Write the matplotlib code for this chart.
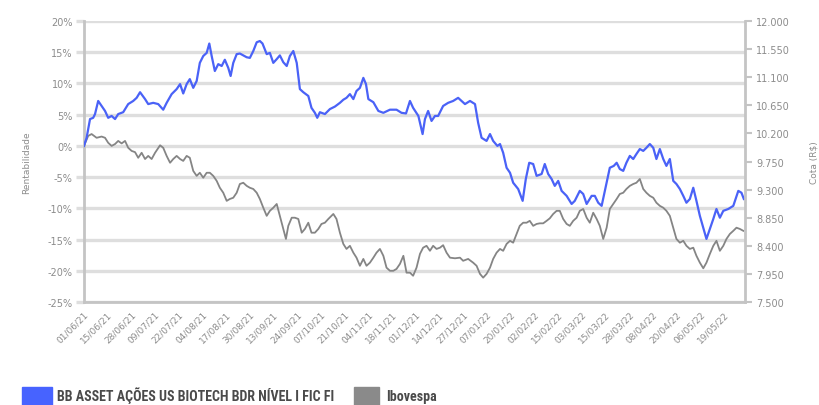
import matplotlib.pyplot as plt
from matplotlib.patches import Rectangle
from matplotlib.ticker import FuncFormatter

# trading-day index since 01/06/21 and accumulated return (%)
blue_days = [0, 1.0, 2.3, 3.5, 4.2, 5.4, 6.7, 8.0, 9.2, 10.5,
             11.8, 13.0, 14.9, 16.8, 18.7, 20.0, 21.3, 23.2, 24.4, 26.3,
             28.2, 30.1, 31.4, 33.3, 35.2, 36.5, 37.7, 39.0, 40.2, 41.5,
             42.8, 44.0, 45.3, 46.6, 47.6, 48.5, 49.7, 51.0, 52.3, 53.5,
             54.8, 55.7, 56.7, 58.0, 59.2, 60.5, 61.8, 63.0, 64.3, 65.6,
             66.8, 67.8, 69.4, 70.6, 71.9, 73.2, 74.4, 75.7, 77.0, 78.2,
             79.5, 80.8, 82.0, 83.3, 85.2, 86.4, 87.7, 88.6, 89.6, 91.5,
             93.4, 95.3, 97.2, 98.5, 99.7, 101.0, 102.3, 103.5, 104.8, 106.1,
             107.1, 108.0, 109.9, 111.8, 113.7, 116.2, 118.7, 120.6, 122.3, 123.8,
             125.0, 127.0, 128.6, 129.5, 130.7, 132.0, 133.3, 134.5, 136.4, 138.3,
             140.2, 142.1, 143.4, 144.7, 146.6, 148.5, 149.7, 151.0, 152.9, 154.2,
             155.4, 157.0, 158.0, 159.2, 160.5, 161.8, 163.0, 164.9, 166.6, 167.8,
             169.1, 170.6, 171.9, 173.8, 175.0, 176.3, 177.6, 178.8, 180.1, 181.4,
             183.3, 185.2, 186.4, 188.3, 189.6, 190.9, 192.8, 194.0, 195.3, 196.6,
             198.5, 199.7, 201.2, 202.3, 203.5, 204.8, 206.0, 207.3, 208.6, 209.8,
             211.1, 212.4, 213.6, 214.9, 216.2, 217.4, 218.7, 220.0, 221.2, 222.5,
             223.8, 225.0, 226.3, 227.6, 228.8, 230.1, 231.4, 232.6, 233.9, 235.2,
             236.4, 237.7, 239.0, 240.2, 241.5, 242.8, 244.7, 246.6, 248.5, 249.7,
             250.6]
blue_vals = [0.0, 1.3, 4.3, 4.5, 5.1, 7.2, 6.4, 5.6, 4.5, 4.8,
             4.3, 5.1, 5.4, 6.7, 7.2, 7.7, 8.6, 7.5, 6.7, 6.9,
             6.7, 5.8, 6.9, 8.3, 9.1, 9.9, 8.4, 9.9, 10.7, 9.3,
             10.4, 13.3, 14.4, 14.9, 16.4, 14.4, 12.0, 13.1, 12.8, 13.8,
             12.5, 11.2, 13.3, 14.7, 14.8, 14.5, 14.2, 14.1, 15.2, 16.6,
             16.8, 16.4, 14.7, 14.9, 13.3, 13.9, 14.5, 13.4, 12.8, 14.4,
             15.2, 13.3, 9.1, 8.6, 8.0, 6.1, 5.3, 4.5, 5.4, 5.1,
             5.9, 6.3, 6.9, 7.4, 7.7, 8.3, 7.5, 8.8, 9.3, 10.9,
             9.9, 7.5, 7.0, 5.6, 5.3, 5.8, 5.8, 5.3, 5.2, 7.2,
             6.1, 4.8, 1.9, 4.3, 5.6, 4.0, 4.8, 4.8, 6.4, 6.9,
             7.2, 7.7, 7.2, 6.7, 7.2, 6.7, 3.7, 1.3, 0.8, 1.9,
             0.8, 0.0, 0.3, -1.1, -3.5, -4.3, -5.9, -6.9, -8.8, -5.3,
             -2.7, -2.9, -4.8, -4.5, -2.9, -4.5, -5.3, -6.4, -5.6, -7.2,
             -8.0, -9.3, -8.8, -7.2, -7.7, -9.3, -8.0, -8.0, -9.1, -9.6,
             -5.9, -3.5, -3.2, -2.7, -3.7, -4.0, -2.7, -1.6, -2.1, -1.3,
             -0.5, -0.8, -0.3, 0.3, -0.3, -2.1, -0.5, -2.1, -3.2, -2.1,
             -5.6, -6.1, -6.9, -8.0, -9.1, -8.5, -6.7, -8.8, -11.2, -13.1,
             -14.9, -13.3, -11.7, -10.1, -11.5, -10.4, -10.1, -9.6, -7.2, -7.5,
             -8.5]

gray_days = [0, 1.6, 2.9, 4.8, 6.7, 8.0, 9.2, 10.5, 11.8, 13.0,
             14.3, 15.6, 16.8, 18.1, 19.4, 20.6, 21.9, 23.2, 24.4, 25.7,
             27.0, 28.9, 30.1, 31.4, 32.7, 33.9, 35.2, 36.5, 37.7, 39.0,
             40.2, 41.5, 42.8, 44.0, 45.3, 46.6, 47.8, 49.1, 50.4, 51.6,
             52.9, 54.2, 55.4, 56.7, 58.0, 59.2, 60.5, 61.8, 63.0, 64.3,
             65.6, 66.8, 68.1, 69.4, 70.6, 71.9, 73.2, 74.4, 75.7, 76.7,
             77.6, 78.9, 80.1, 81.4, 82.7, 83.9, 85.2, 86.4, 87.7, 89.0,
             90.2, 91.5, 92.8, 94.7, 95.9, 97.2, 98.5, 99.7, 101.0, 102.3,
             103.5, 104.8, 106.1, 107.3, 108.6, 109.9, 111.1, 112.4, 113.7, 114.9,
             116.2, 117.5, 118.7, 120.0, 121.3, 122.5, 123.8,
             125.0, 126.3, 127.6, 128.8, 130.1, 131.4, 132.6, 133.9, 135.2, 136.4,
             137.7, 139.0, 140.9, 142.8, 144.0, 145.9, 147.8, 149.1, 150.4, 151.6,
             152.9, 154.2, 155.4, 156.7, 158.0, 159.2, 160.5, 161.8, 163.0, 164.3,
             165.5, 166.8, 168.1, 169.3, 170.6, 171.9, 173.1, 174.4, 175.7, 176.9,
             178.2, 179.5, 180.7, 182.0, 183.3, 184.5, 185.8, 187.1, 188.3, 189.6,
             190.9, 192.1, 193.4, 194.7, 195.9, 197.2, 198.5, 199.7, 201.0, 202.3,
             203.5, 204.8, 206.0, 207.3, 208.6, 209.8, 211.1, 212.4, 213.6, 214.9,
             216.2, 217.4, 218.7, 220.0, 221.2, 222.5, 223.8, 225.0, 226.3, 227.6,
             228.8, 230.1, 231.4, 232.6, 233.9, 235.2, 236.4, 237.7, 239.0, 240.2,
             241.5, 242.8, 244.0, 245.3, 246.6, 247.8, 249.1, 250.4]
gray_vals = [0.0, 1.6, 1.9, 1.3, 1.5, 1.3, 0.5, 0.0, 0.3, 0.8,
             0.4, 0.8, -0.3, -0.8, -1.0, -1.9, -1.1, -2.1, -1.6, -2.1,
             -1.1, 0.1, -0.3, -1.6, -2.7, -2.1, -1.6, -2.1, -2.4, -1.6,
             -1.9, -4.0, -4.8, -4.3, -5.1, -4.3, -4.3, -4.8, -5.6, -6.7,
             -7.5, -8.8, -8.5, -8.3, -7.5, -6.1, -5.9, -6.4, -6.7, -6.9,
             -7.5, -8.5, -9.9, -11.2, -10.4, -9.9, -9.3, -11.2, -13.3, -14.9,
             -12.8, -11.5, -11.5, -11.7, -13.9, -13.3, -12.3, -13.9, -13.9, -13.3,
             -12.5, -12.3, -11.7, -10.9, -11.7, -13.9, -15.7, -16.5, -16.0, -17.1,
             -17.9, -19.2, -18.1, -19.2, -18.7, -17.9, -17.1, -16.5, -17.6, -19.5,
             -20.0, -20.0, -19.7, -18.9, -17.6, -20.3, -20.3,
             -20.8, -19.5, -17.3, -16.3, -16.0, -16.8, -16.0, -16.5, -16.3, -15.9,
             -17.1, -17.9, -18.0, -17.9, -18.4, -18.1, -18.7, -19.2, -20.5, -21.1,
             -20.5, -19.5, -18.1, -17.1, -16.5, -16.8, -15.7, -15.2, -15.5, -14.1,
             -12.8, -12.3, -12.3, -12.0, -12.8, -12.5, -12.4, -12.4, -12.0, -11.6,
             -10.9, -10.4, -10.4, -11.7, -12.5, -12.8, -12.0, -11.5, -10.4, -10.1,
             -11.5, -12.3, -10.7, -11.7, -12.8, -14.9, -13.1, -10.1, -9.3, -8.5,
             -7.7, -7.5, -6.9, -6.4, -6.1, -5.9, -5.3, -6.9, -7.5, -8.0,
             -8.3, -9.1, -9.6, -9.9, -10.4, -11.2, -13.1, -14.9, -15.5, -15.2,
             -16.0, -16.5, -16.3, -17.6, -18.7, -19.6, -18.7, -17.3, -16.0, -15.2,
             -16.8, -16.0, -14.9, -14.1, -13.6, -13.1, -13.3, -13.6]

date_labels = ['01/06/21', '15/06/21', '28/06/21', '09/07/21', '22/07/21', '04/08/21',
               '17/08/21', '30/08/21', '13/09/21', '24/09/21', '07/10/21', '21/10/21',
               '04/11/21', '18/11/21', '01/12/21', '14/12/21', '27/12/21', '07/01/22',
               '20/01/22', '02/02/22', '15/02/22', '03/03/22', '15/03/22', '28/03/22',
               '08/04/22', '20/04/22', '06/05/22', '19/05/22']
left_ticks = [20, 15, 10, 5, 0, -5, -10, -15, -20, -25]
right_ticks = [12000, 11550, 11100, 10650, 10200, 9750, 9300, 8850, 8400, 7950, 7500]

fund_name = 'BB ASSET AÇÕES US BIOTECH BDR NÍVEL I FIC FI'
bench_name = 'Ibovespa'

BLUE = '#4a62f7'
GRAY = '#858585'
GRID = '#dedede'
AXIS = '#c4c4c4'
TXT = '#8c8c8c'

fig = plt.figure(figsize=(8.2, 4.06), dpi=100)
ax = fig.add_axes([0.1024, 0.2537, 0.806, 0.692])

ax.plot(gray_days, gray_vals, color=GRAY, lw=1.3, zorder=3)
ax.plot(blue_days, blue_vals, color=BLUE, lw=1.6, zorder=4)

ax.set_xlim(0, 251)
ax.set_ylim(-25, 20)
ax.set_yticks(left_ticks)
ax.yaxis.set_major_formatter(FuncFormatter(lambda v, p: f'{v:.0f}%'))
ax.yaxis.grid(True, color=GRID, lw=2.4)
ax.set_axisbelow(True)
ax.tick_params(axis='y', length=6, width=2.4, color=GRID, labelsize=7, labelcolor=TXT, pad=2)

ax.set_xticks([9 * i for i in range(len(date_labels))])
ax.set_xticklabels(date_labels, rotation=45, ha='right', rotation_mode='anchor')
ax.tick_params(axis='x', length=0, labelsize=6.5, labelcolor=TXT, pad=5)

for side in ['top', 'right']:
    ax.spines[side].set_visible(False)
ax.spines['left'].set_color(AXIS)
ax.spines['left'].set_linewidth(2)
ax.spines['bottom'].set_color(AXIS)
ax.spines['bottom'].set_linewidth(2)
ax.set_ylabel('Rentabilidade', fontsize=6.5, color=TXT, labelpad=12)

ax2 = ax.twinx()
ax2.set_ylim(7500, 12000)
ax2.set_yticks(right_ticks)
ax2.yaxis.set_major_formatter(FuncFormatter(lambda v, p: f'{v:,.0f}'.replace(',', '.')))
ax2.tick_params(axis='y', length=5, width=1.5, color=AXIS, labelsize=7, labelcolor=TXT, pad=3)
for side in ['top', 'left', 'bottom']:
    ax2.spines[side].set_visible(False)
ax2.spines['right'].set_color(AXIS)
ax2.spines['right'].set_linewidth(2)
ax2.set_ylabel('Cota (R$)', fontsize=6.5, color=TXT, rotation=90, labelpad=14)

# legend along the bottom edge; fund name squeezed to its width in the original
W = 820.0
leg_family = ['Roboto Condensed', 'Roboto', 'DejaVu Sans']
leg_font = dict(fontweight='bold', color='#4a4a4a', va='bottom', family=leg_family)
fig.patches.append(Rectangle((22 / W, 0.0), 30 / W, 0.045, transform=fig.transFigure,
                             color='#4763ff', zorder=5))
t1 = fig.text(57 / W, 0.006, fund_name, fontsize=11, **leg_font)
renderer = fig.canvas.get_renderer()
w1 = t1.get_window_extent(renderer).width
t1.set_fontsize(11 * 278 / w1)
end1 = t1.get_window_extent(renderer).x1
gx = (end1 + 20) / W
fig.patches.append(Rectangle((gx, 0.0), 25 / W, 0.045, transform=fig.transFigure,
                             color='#8a8a8a', zorder=5))
fig.text(gx + 32 / W, 0.006, bench_name, fontsize=t1.get_fontsize(), **leg_font)

fig.savefig('out.png', dpi=100)
